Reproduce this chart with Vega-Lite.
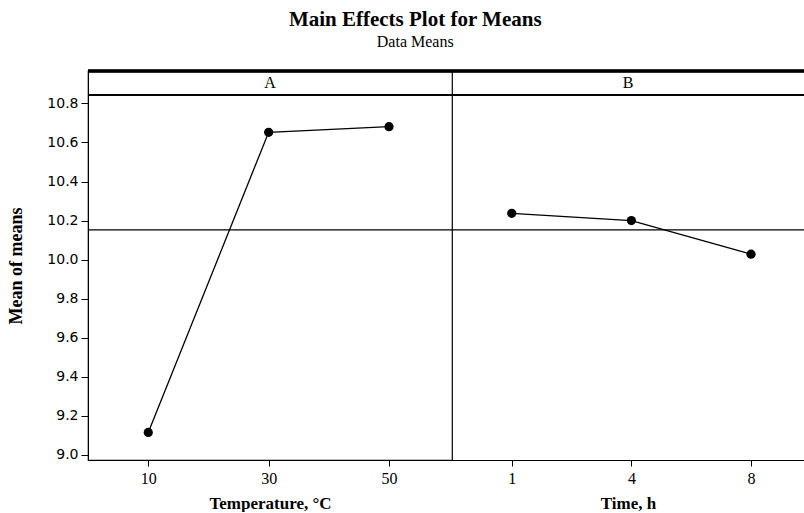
{
  "$schema": "https://vega.github.io/schema/vega-lite/v6.json",
  "background": "white",
  "padding": {"left": 7, "top": 9, "right": 0, "bottom": 0},
  "title": {
    "text": "Main Effects Plot for Means",
    "subtitle": "Data Means",
    "anchor": "middle",
    "font": "Liberation Serif",
    "fontSize": 21,
    "fontWeight": "bold",
    "color": "black",
    "subtitleFont": "Liberation Serif",
    "subtitleFontSize": 16,
    "subtitleColor": "black",
    "subtitlePadding": 4,
    "offset": 19,
    "dx": 9
  },
  "data": {
    "values": [
      {"factor": "A", "level": "10", "mean": 9.115},
      {"factor": "A", "level": "30", "mean": 10.652},
      {"factor": "A", "level": "50", "mean": 10.681},
      {"factor": "B", "level": "1", "mean": 10.237},
      {"factor": "B", "level": "4", "mean": 10.200},
      {"factor": "B", "level": "8", "mean": 10.028}
    ]
  },
  "spacing": 0,
  "bounds": "flush",
  "hconcat": [
    {
      "width": 364,
      "height": 389,
      "layer": [
        {
          "transform": [{"filter": "datum.factor == 'A'"}],
          "mark": {"type": "line", "color": "black", "strokeWidth": 1.3},
          "encoding": {
            "x": {
              "field": "level", "type": "ordinal", "sort": ["10", "30", "50"],
              "scale": {"type": "point", "domain": ["10", "30", "50"], "padding": 0.512, "align": 0.489},
              "axis": {"title": "Temperature, °C", "labelAngle": 0}
            },
            "y": {
              "field": "mean", "type": "quantitative",
              "scale": {"domain": [8.974, 10.966], "nice": false, "zero": false},
              "axis": {"title": "Mean of means", "values": [9.0, 9.2, 9.4, 9.6, 9.8, 10.0, 10.2, 10.4, 10.6, 10.8], "format": ".1f",
                       "labelFont": "DejaVu Sans", "labelFontSize": 14, "labelPadding": 3, "tickSize": 7, "titlePadding": 21}
            }
          }
        },
        {
          "transform": [{"filter": "datum.factor == 'A'"}],
          "mark": {"type": "circle", "color": "black", "opacity": 1, "size": 85},
          "encoding": {
            "x": {"field": "level", "type": "ordinal", "sort": ["10", "30", "50"], "axis": {"title": "Temperature, °C", "labelAngle": 0}},
            "y": {"field": "mean", "type": "quantitative", "title": "Mean of means"}
          }
        },
        {
          "mark": {"type": "rule", "color": "black", "strokeWidth": 1.2},
          "encoding": {"y": {"aggregate": "mean", "field": "mean", "type": "quantitative", "title": "Mean of means"}}
        },
        {
          "mark": {"type": "rule", "color": "black", "strokeWidth": 1.2},
          "encoding": {"y": {"datum": 10.844, "type": "quantitative", "title": "Mean of means"}}
        },
        {
          "mark": {"type": "rule", "color": "black", "strokeWidth": 2.5},
          "encoding": {"y": {"datum": 10.966, "type": "quantitative", "title": "Mean of means"}}
        },
        {
          "transform": [
            {"filter": "datum.factor == 'A'"},
            {"aggregate": [{"op": "count", "as": "n"}], "groupby": ["factor"]}
          ],
          "mark": {"type": "text", "font": "Liberation Serif", "fontSize": 16, "color": "black", "baseline": "middle", "align": "center"},
          "encoding": {
            "text": {"field": "factor"},
            "y": {"datum": 10.902, "type": "quantitative", "title": "Mean of means"}
          }
        }
      ]
    },
    {
      "width": 352,
      "height": 389,
      "view": {"stroke": null},
      "layer": [
        {
          "transform": [{"filter": "datum.factor == 'B'"}],
          "mark": {"type": "line", "color": "black", "strokeWidth": 1.3},
          "encoding": {
            "x": {
              "field": "level", "type": "ordinal", "sort": ["1", "4", "8"],
              "scale": {"type": "point", "domain": ["1", "4", "8"], "padding": 0.471, "align": 0.53},
              "axis": {"title": "Time, h", "labelAngle": 0}
            },
            "y": {
              "field": "mean", "type": "quantitative",
              "scale": {"domain": [8.974, 10.966], "nice": false, "zero": false},
              "axis": null
            }
          }
        },
        {
          "transform": [{"filter": "datum.factor == 'B'"}],
          "mark": {"type": "circle", "color": "black", "opacity": 1, "size": 85},
          "encoding": {
            "x": {"field": "level", "type": "ordinal", "sort": ["1", "4", "8"], "axis": {"title": "Time, h", "labelAngle": 0}},
            "y": {"field": "mean", "type": "quantitative", "axis": null}
          }
        },
        {
          "mark": {"type": "rule", "color": "black", "strokeWidth": 1.2},
          "encoding": {"y": {"aggregate": "mean", "field": "mean", "type": "quantitative", "axis": null}}
        },
        {
          "mark": {"type": "rule", "color": "black", "strokeWidth": 1.2},
          "encoding": {"y": {"datum": 10.844, "type": "quantitative", "axis": null}}
        },
        {
          "mark": {"type": "rule", "color": "black", "strokeWidth": 2.5},
          "encoding": {"y": {"datum": 10.966, "type": "quantitative", "axis": null}}
        },
        {
          "transform": [
            {"filter": "datum.factor == 'B'"},
            {"aggregate": [{"op": "count", "as": "n"}], "groupby": ["factor"]}
          ],
          "mark": {"type": "text", "font": "Liberation Serif", "fontSize": 16, "color": "black", "baseline": "middle", "align": "center"},
          "encoding": {
            "text": {"field": "factor"},
            "y": {"datum": 10.902, "type": "quantitative", "axis": null}
          }
        }
      ]
    }
  ],
  "config": {
    "view": {"stroke": "black", "strokeWidth": 1.2},
    "axis": {
      "grid": false,
      "domainColor": "black",
      "tickColor": "black",
      "labelColor": "black",
      "titleColor": "black",
      "labelFont": "Liberation Serif",
      "labelFontSize": 16,
      "titleFont": "Liberation Serif",
      "titleFontWeight": "bold",
      "titleFontSize": 17
    },
    "axisX": {"tickSize": 6, "labelPadding": 4, "titlePadding": 9},
    "axisY": {"titleFontSize": 18}
  }
}
